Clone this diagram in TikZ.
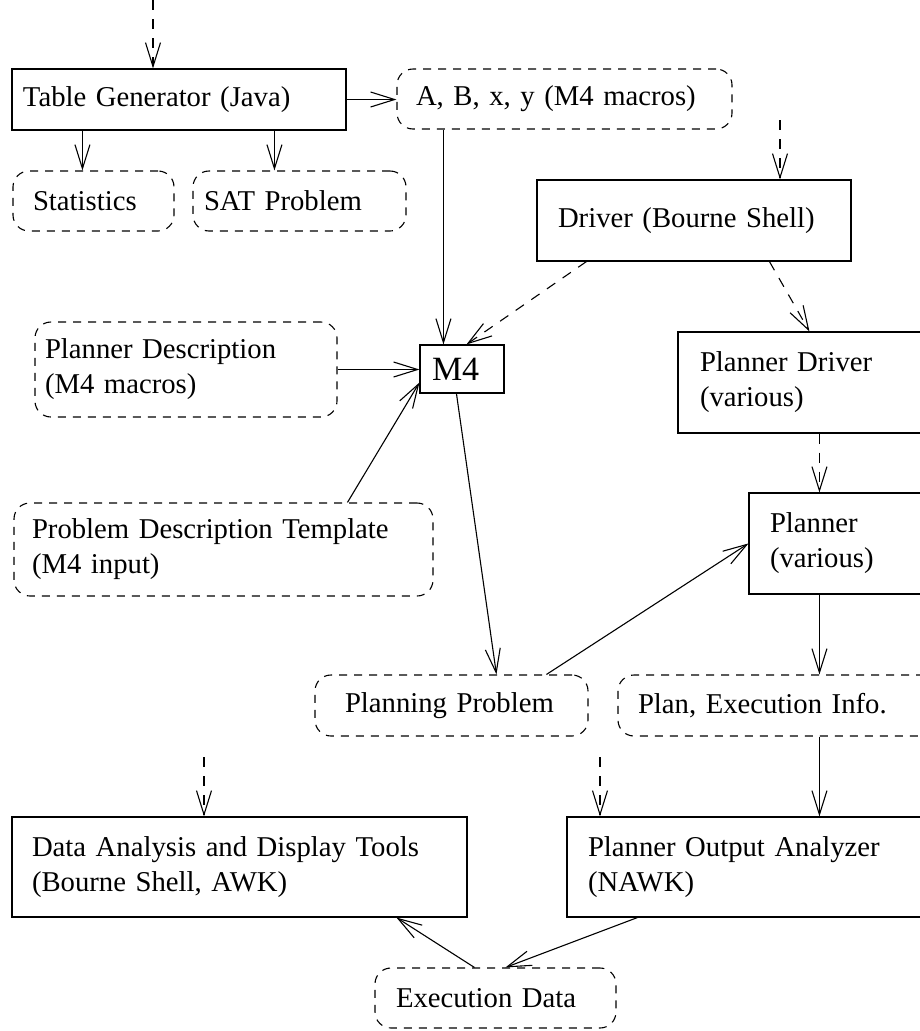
\documentclass[tikz,border=0pt]{standalone}
\usepackage{fontspec}
\setmainfont{Liberation Serif}
\usetikzlibrary{arrows.meta}

\begin{document}
\begin{tikzpicture}[x=1pt,y=-1pt,
  every node/.style={font=\fontsize{28.7}{35}\selectfont, align=left, inner ysep=0pt},
  procbox/.style={draw, line width=1.1pt, rectangle},
  databox/.style={draw, line width=1.1pt, rectangle, rounded corners=16pt, dash pattern=on 8pt off 7pt},
  arr/.style={line width=1.1pt, -{Straight Barb[length=24pt,width=15pt,line width=1.1pt]}},
  darr/.style={arr, dash pattern=on 10pt off 9pt}]
\useasboundingbox (0,0) rectangle (920,1031);
\clip (0,0) rectangle (920,1031);

% tools (solid boxes) and data (dashed rounded boxes)
\node[procbox, minimum height=61, text width=312, inner xsep=11] (tg) at (179,99.5) {Table Generator (Java)};
\node[databox, minimum height=60, text width=297, inner xsep=19] (abxy) at (564.5,99) {A, B, x, y (M4 macros)};
\node[databox, minimum height=60, text width=121, inner xsep=20] (stat) at (93.5,201) {Statistics};
\node[databox, minimum height=60, text width=191, inner xsep=11] (sat) at (299.5,201) {SAT Problem};
\node[procbox, minimum height=81, text width=272, inner xsep=21] (driver) at (694,220.5) {Driver (Bourne Shell)};
\node[procbox, minimum height=48, text width=60, inner xsep=12, font=\fontsize{34}{40}\selectfont] (m4) at (462,369) {M4};
\node[databox, minimum height=95, text width=282, inner xsep=10] (pdesc) at (186,369.5) {Planner Description\\(M4 macros)};
\node[databox, minimum height=93, text width=383, inner xsep=18] (pdt) at (223.5,549.5) {Problem Description Template\\(M4 input)};
\node[procbox, minimum height=101, text width=218, inner xsep=22] (pdriver) at (809,382.5) {Planner Driver\\(various)};
\node[procbox, minimum height=101, text width=149, inner xsep=21] (planner) at (844.5,543.5) {Planner\\(various)};
\node[databox, minimum height=61, text width=213, inner xsep=30] (pp) at (451.5,705.5) {Planning Problem};
\node[databox, minimum height=61, text width=282, inner xsep=20] (pex) at (779,705.5) {Plan, Execution Info.};
\node[procbox, minimum height=100, text width=331, inner xsep=21] (poa) at (753.5,867) {Planner Output Analyzer\\(NAWK)};
\node[procbox, minimum height=100, text width=415, inner xsep=20] (dadt) at (239.5,867) {Data Analysis and Display Tools\\(Bourne Shell, AWK)};
\node[databox, minimum height=60, text width=199, inner xsep=21] (ed) at (495.5,998) {Execution Data};

% free ends of the incoming dashed arrows
\coordinate (tgin) at (153,0);
\coordinate (drin) at (780,120);
\coordinate (poain) at (600,757);
\coordinate (dain) at (204,757);

% connectors
\draw[darr] (tgin) -- (tgin |- tg.north);
\draw[arr] (tg.east) -- (tg.east -| abxy.west);
\draw[arr] ([xshift=71pt]tg.south west) coordinate (s1) -- (s1 |- stat.north);
\draw[arr] ([xshift=263pt]tg.south west) coordinate (s2) -- (s2 |- sat.north);
\draw[arr] ([xshift=47pt]abxy.south west) coordinate (a1) -- (a1 |- m4.north);
\draw[darr] (drin) -- (drin |- driver.north);
\draw[darr] ([xshift=50pt]driver.south west) -- ([xshift=47pt]m4.north west);
\draw[darr] ([xshift=233pt]driver.south west) -- ([xshift=132pt]pdriver.north west);
\draw[arr] (pdesc.east) -- (pdesc.east -| m4.west);
\draw[arr] ([xshift=334pt]pdt.north west) -- ([yshift=11pt]m4.south west);
\draw[arr] ([xshift=37pt]m4.south west) -- ([xshift=182pt]pp.north west);
\draw[darr] ([xshift=142pt]pdriver.south west) coordinate (p1) -- (p1 |- planner.north);
\draw[arr] ([xshift=232pt]pp.north west) -- ([yshift=-51pt]planner.north west);
\draw[arr] ([xshift=71pt]planner.south west) coordinate (p2) -- (p2 |- pex.north);
\draw[arr] ([xshift=202pt]pex.south west) coordinate (p3) -- (p3 |- poa.north);
\draw[darr] (poain) -- (poain |- poa.north);
\draw[darr] (dain) -- (dain |- dadt.north);
\draw[arr] ([xshift=71pt]poa.south west) -- ([xshift=131pt]ed.north west);
\draw[arr] ([xshift=100pt]ed.north west) -- ([xshift=385pt]dadt.south west);
\end{tikzpicture}
\end{document}
